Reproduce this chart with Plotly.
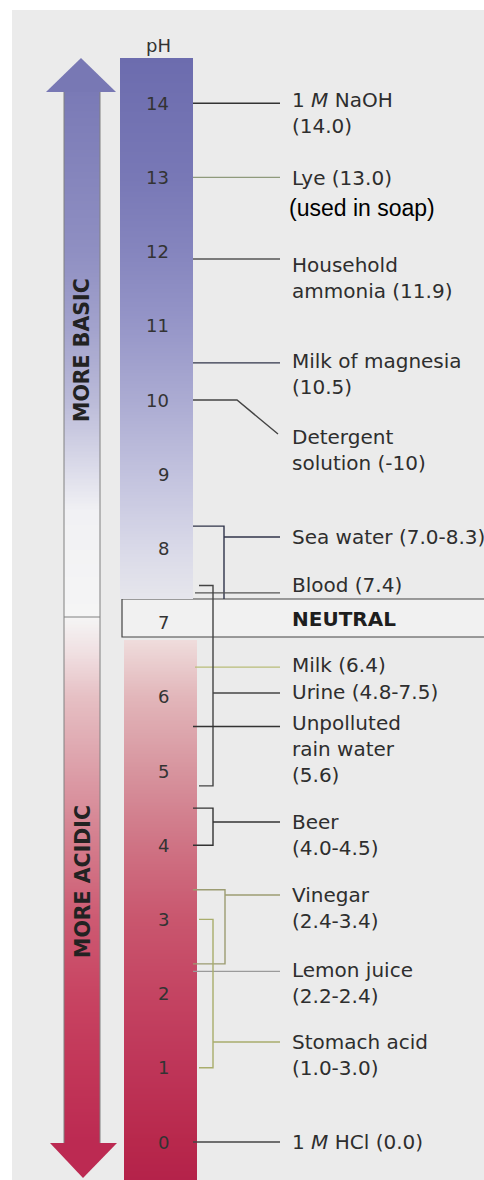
import numpy as np
import plotly.graph_objects as go

# ---------------- data ----------------
ph_ticks = list(range(0, 15))
substances = ["1 M NaOH", "Lye", "Household ammonia", "Milk of magnesia", "Detergent solution",
              "Sea water", "Blood", "Milk", "Urine", "Unpolluted rain water", "Beer",
              "Vinegar", "Lemon juice", "Stomach acid", "1 M HCl"]
ph_low = [14.0, 13.0, 11.9, 10.5, 10.0, 7.0, 7.4, 6.4, 4.8, 5.6, 4.0, 2.4, 2.2, 1.0, 0.0]
ph_high = [14.0, 13.0, 11.9, 10.5, 10.0, 8.3, 7.4, 6.4, 7.5, 5.6, 4.5, 3.4, 2.4, 3.0, 0.0]
labels = ["1 <i>M</i> NaOH<br>(14.0)", "Lye (13.0)", "Household<br>ammonia (11.9)",
          "Milk of magnesia<br>(10.5)", "Detergent<br>solution (-10)", "Sea water (7.0-8.3)",
          "Blood (7.4)", "Milk (6.4)", "Urine (4.8-7.5)", "Unpolluted<br>rain water<br>(5.6)",
          "Beer<br>(4.0-4.5)", "Vinegar<br>(2.4-3.4)", "Lemon juice<br>(2.2-2.4)",
          "Stomach acid<br>(1.0-3.0)", "1 <i>M</i> HCl (0.0)"]
neutral_ph = 7.0

# ---------------- layout helpers (pixel geometry) ----------------
W, H = 484, 1180
Y0, S = 1142.0, 74.2          # pixel row of pH 0, pixels per pH unit


def ph_of(px):
    return (Y0 - px) / S


# text first-line centre (px), bracket vertical x, bracket tick start x, connector row (px)
text_px = [100, 178, 265, 361, 437, 537, 585, 665, 692, 723, 822, 895, 970, 1042, 1142]
bracket_x = [None, None, None, None, None, 224, None, None, 213, None, 213, 225, None, 213, None]
tick_x0 = [193, 193, 193, 193, 193, 193, 195, 195, 199, 193, 193, 193, 193, 199, 193]
conn_px = [None, None, None, None, None, 537, None, None, 693, None, 822, 895, None, 1042, None]
line_col = ["#333333", "#8f9a7c", "#555555", "#30344a", "#444444", "#30344a", "#555555",
            "#b9bd78", "#444444", "#333333", "#333333", "#9c9c72", "#9a9a9a", "#a9ad6c", "#444444"]
LINE_END = 280
TEXT_X = 290
BOX_TOP, BOX_BOT = ph_of(599), ph_of(637)

fig = go.Figure()


def scale(stops):
    lo, hi = stops[0][0], stops[-1][0]
    return [[(p - lo) / (hi - lo), c] for p, c in stops], lo, hi


def grad_col(x0, x1, stops, step=0.02):
    cs, lo, hi = scale(stops)
    edges = np.arange(lo, hi + step, step)
    edges[-1] = hi
    centres = (edges[:-1] + edges[1:]) / 2
    fig.add_trace(go.Heatmap(x=[x0, x1], y=edges, z=centres.reshape(-1, 1),
                             colorscale=cs, zmin=lo, zmax=hi, showscale=False,
                             hoverinfo="skip"))


# pH column (blue above neutral box, red below)
blue_stops = [(BOX_TOP, "#e6e6ec"), (8.0, "#d9d9e8"), (9.0, "#c2c2de"), (10.0, "#ababd2"),
              (11.0, "#9696c8"), (12.0, "#8585be"), (13.0, "#7878b6"), (ph_of(58), "#6c6cae")]
red_stops = [(ph_of(1180), "#b4224a"), (0.0, "#b8284c"), (1.0, "#be3558"), (2.0, "#c44462"),
             (3.0, "#c9566e"), (4.0, "#cf7384"), (5.0, "#d7949e"), (6.0, "#e2b6ba"),
             (ph_of(640), "#efdcdc")]
grad_col(120, 193, blue_stops)
grad_col(124, 197, red_stops)

# arrows
ARR_SPLIT = ph_of(617)
up_stops = [(ARR_SPLIT, "#f5f5f5"), (8.5, "#f1f1f4"), (9.0, "#dedeeb"), (10.0, "#babad8"),
            (11.0, "#a2a2cc"), (12.0, "#8f8fc2"), (ph_of(92), "#7a7ab6")]
down_stops = [(ph_of(1143), "#bc2a52"), (1.0, "#c23658"), (2.0, "#c84462"), (3.0, "#cd5a72"),
              (4.0, "#d47c8c"), (5.0, "#dc9ea8"), (6.0, "#e6c0c4"), (6.6, "#f0e0e2"),
              (ARR_SPLIT, "#f5f5f5")]
grad_col(64, 100, up_stops)
grad_col(64, 100, down_stops)
fig.add_trace(go.Scatter(x=[46, 81, 116, 46], y=[ph_of(92), ph_of(58), ph_of(92), ph_of(92)],
                         fill="toself", fillcolor="#7878b4", mode="lines",
                         line=dict(width=0, color="#7878b4"), hoverinfo="skip"))
fig.add_trace(go.Scatter(x=[50, 83, 117, 50], y=[ph_of(1143), ph_of(1178), ph_of(1143), ph_of(1143)],
                         fill="toself", fillcolor="#bc2a52", mode="lines",
                         line=dict(width=0, color="#bc2a52"), hoverinfo="skip"))
fig.add_trace(go.Scatter(x=[64, 64, None, 100, 100, None, 64, 100],
                         y=[ph_of(92), ph_of(1143), None, ph_of(92), ph_of(1143), None,
                            ARR_SPLIT, ARR_SPLIT],
                         mode="lines", line=dict(color="#808080", width=1), hoverinfo="skip"))

# leader lines and brackets
for i, name in enumerate(substances):
    lo, hi = ph_low[i], ph_high[i]
    xs, ys = [], []
    if name == "Detergent solution":
        xs = [193, 237, 278]
        ys = [lo, lo, ph_of(434)]
    elif bracket_x[i] is None:
        v = (lo + hi) / 2
        xs = [tick_x0[i], LINE_END]
        ys = [v, v]
    else:
        bx = bracket_x[i]
        bottom = max(lo, BOX_TOP) if name == "Sea water" else lo
        xs = [tick_x0[i], bx, bx]
        ys = [hi, hi, bottom]
        if name != "Sea water":
            xs += [tick_x0[i]]
            ys += [lo]
        xs += [None, bx, LINE_END]
        ys += [None, ph_of(conn_px[i]), ph_of(conn_px[i])]
    fig.add_trace(go.Scatter(x=xs, y=ys, mode="lines",
                             line=dict(color=line_col[i], width=1.4), hoverinfo="skip"))

annotations = []
for i, lab in enumerate(labels):
    annotations.append(dict(x=TEXT_X, y=ph_of(text_px[i]), xref="x", yref="y", text=lab,
                            showarrow=False, xanchor="left", yanchor="top", yshift=14,
                            align="left",
                            font=dict(family="DejaVu Sans", size=20, color="#2e2e2e")))
annotations.append(dict(x=287, y=ph_of(208), xref="x", yref="y", text="(used in soap)",
                        showarrow=False, xanchor="left", yanchor="middle",
                        font=dict(family="Liberation Sans", size=23, color="#000000")))
annotations.append(dict(x=TEXT_X, y=neutral_ph, xref="x", yref="y", text="<b>NEUTRAL</b>",
                        showarrow=False, xanchor="left", yanchor="middle", yshift=4,
                        font=dict(family="DejaVu Sans", size=20, color="#1e1e1e")))
for p in ph_ticks:
    annotations.append(dict(x=171, y=p, xref="x", yref="y", text=str(p), showarrow=False,
                            xanchor="right", yanchor="middle",
                            font=dict(family="DejaVu Sans", size=18, color="#333333")))
annotations.append(dict(x=158, y=ph_of(45), xref="x", yref="y", text="pH", showarrow=False,
                        xanchor="center", yanchor="middle",
                        font=dict(family="DejaVu Sans", size=18, color="#333333")))
annotations.append(dict(x=82, y=ph_of(350), xref="x", yref="y", text="<b>MORE BASIC</b>",
                        showarrow=False, textangle=-90,
                        font=dict(family="DejaVu Sans", size=20.5, color="#222222")))
annotations.append(dict(x=83, y=ph_of(882), xref="x", yref="y", text="<b>MORE ACIDIC</b>",
                        showarrow=False, textangle=-90,
                        font=dict(family="DejaVu Sans", size=20.5, color="#222222")))

shapes = [
    dict(type="rect", xref="x", yref="y", x0=12, x1=W + 5, y0=ph_of(H + 5), y1=ph_of(10),
         fillcolor="#ebebeb", line=dict(width=0), layer="below"),
    dict(type="rect", xref="x", yref="y", x0=122, x1=W + 5, y0=BOX_BOT, y1=BOX_TOP,
         fillcolor="#f1f1f1", line=dict(color="#444444", width=1.2), layer="below"),
]

fig.update_layout(
    width=W, height=H, margin=dict(l=0, r=0, t=0, b=0),
    paper_bgcolor="#ffffff", plot_bgcolor="#ffffff", showlegend=False,
    xaxis=dict(range=[0, W], visible=False, fixedrange=True),
    yaxis=dict(range=[ph_of(H), ph_of(0)], visible=False, fixedrange=True),
    annotations=annotations, shapes=shapes,
)
fig.write_html("out.html", config={"displayModeBar": False},
               post_script="document.body.style.margin='0';"
                           "document.body.style.overflow='hidden';")
